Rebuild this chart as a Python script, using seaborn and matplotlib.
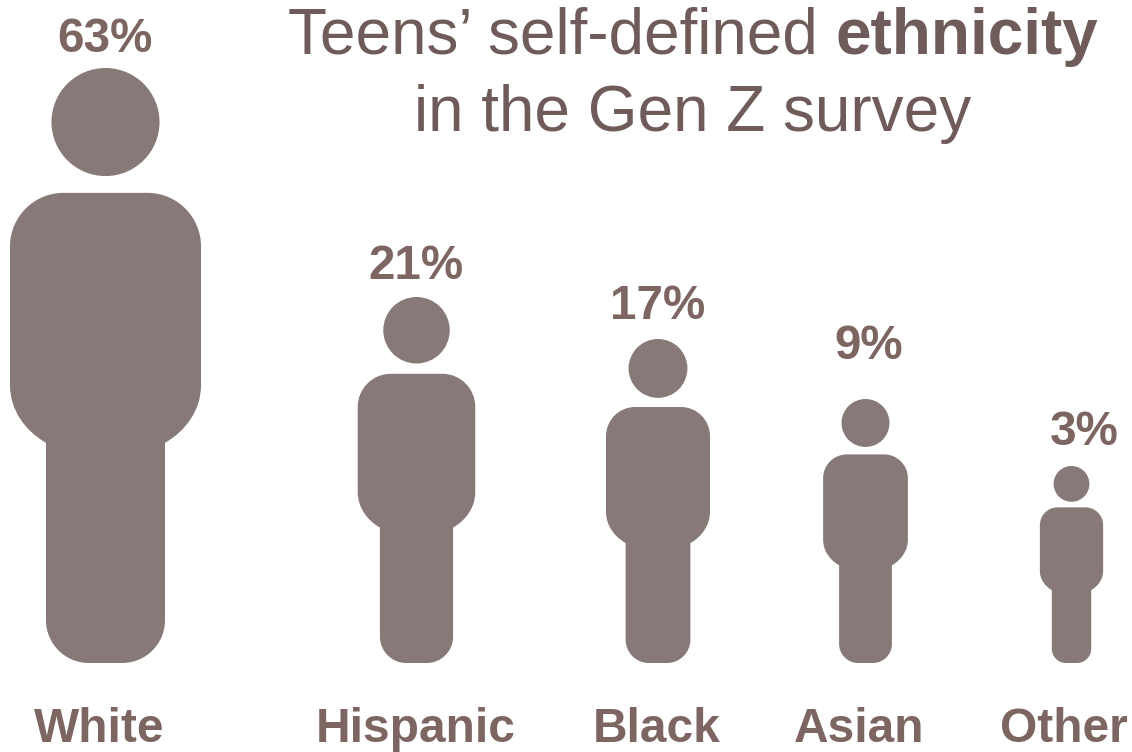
import numpy as np
import pandas as pd
import matplotlib
matplotlib.use("Agg")
import matplotlib.pyplot as plt
from matplotlib.markers import MarkerStyle
from matplotlib.path import Path
import seaborn as sns

# Survey shares and the pictogram height of each group
groups = ["White", "Hispanic", "Black", "Asian", "Other"]
shares = [63, 21, 17, 9, 3]
icon_heights = [595, 366, 324, 264, 197]

# Layout, in pixels of the finished figure
icon_x = [105.5, 416.5, 658, 865.5, 1071.5]
feet_y = 663
share_x = [105, 416, 658, 869, 1084]
share_baseline = [52, 279, 319, 359, 445]
group_x = [99, 416, 657, 859, 1064]
group_baseline = 742

ICON_COLOR = "#877977"
LABEL_COLOR = "#7d6562"
TITLE_COLOR = "#6f5c5a"
WIDTH, HEIGHT, DPI = 1132, 752, 100


def person_path():
    """Person glyph with its feet at y=0 and the top of the head at y=1."""
    head = Path.circle((0, 0.909), 0.0908)
    bw, lw = 0.1605, 0.1
    top, neck = 0.79, 0.37
    shoulder, hip = 0.70, 0.467
    foot = 0.072
    k = 0.5523
    r = top - shoulder
    verts = [
        (-lw, foot),
        (-lw, foot * (1 - k)), (-lw + foot * (1 - k), 0), (-lw + foot, 0),
        (lw - foot, 0),
        (lw - foot * (1 - k), 0), (lw, foot * (1 - k)), (lw, foot),
        (lw, neck),
        (lw + 0.035, neck + 0.02), (bw, neck + 0.055), (bw, hip),
        (bw, shoulder),
        (bw, shoulder + r * k), (bw - r * (1 - k), top), (bw - r, top),
        (-bw + r, top),
        (-bw + r * (1 - k), top), (-bw, shoulder + r * k), (-bw, shoulder),
        (-bw, hip),
        (-bw, neck + 0.055), (-lw - 0.035, neck + 0.02), (-lw, neck),
        (-lw, foot),
    ]
    codes = [Path.MOVETO] + [Path.CURVE4] * 3 + [Path.LINETO] + [Path.CURVE4] * 3 + [Path.LINETO] \
        + [Path.CURVE4] * 3 + [Path.LINETO] + [Path.CURVE4] * 3 + [Path.LINETO] \
        + [Path.CURVE4] * 3 + [Path.LINETO] + [Path.CURVE4] * 3 + [Path.LINETO]
    return Path.make_compound_path(head, Path(verts, codes))


sns.set_theme(style="white")
plt.rcParams["font.family"] = ["Liberation Sans", "DejaVu Sans"]

fig = plt.figure(figsize=(WIDTH / DPI, HEIGHT / DPI), dpi=DPI)
ax = fig.add_axes([0, 0, 1, 1])

table = pd.DataFrame({"group": groups, "x": icon_x, "y": feet_y, "height": icon_heights})
# The glyph is rescaled to half a marker unit per unit height, hence the factor of two
marker_sizes = (2 * table["height"].to_numpy() * 72 / DPI) ** 2
sns.scatterplot(
    data=table, x="x", y="y", marker=MarkerStyle(person_path()),
    s=marker_sizes, color=ICON_COLOR, edgecolor="none", linewidth=0, legend=False, ax=ax,
)

ax.set_xlim(0, WIDTH)
ax.set_ylim(HEIGHT, 0)
ax.set_axis_off()

for x, y, share in zip(share_x, share_baseline, shares):
    ax.text(x, y, f"{share}%", ha="center", va="baseline", fontsize=34.3,
            fontweight="bold", color=LABEL_COLOR)

for x, name in zip(group_x, groups):
    ax.text(x, group_baseline, name, ha="center", va="baseline", fontsize=34.5,
            fontweight="bold", color=LABEL_COLOR)

ax.text(818, 54, "Teens’ self-defined", ha="right", va="baseline", fontsize=46,
        color=TITLE_COLOR)
ax.text(836, 54, "ethnicity", ha="left", va="baseline", fontsize=46,
        fontweight="bold", color=TITLE_COLOR)
ax.text(693, 131, "in the Gen Z survey", ha="center", va="baseline", fontsize=46,
        color=TITLE_COLOR)

fig.savefig("out.png", dpi=DPI, facecolor="white")
